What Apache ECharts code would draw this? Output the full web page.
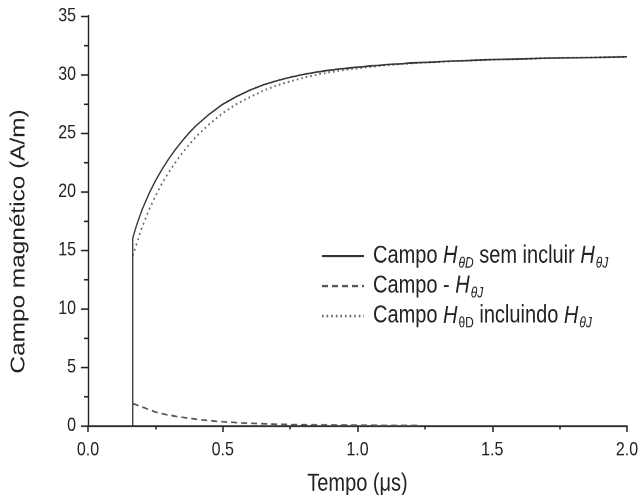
<!DOCTYPE html>
<html>
<head>
<meta charset="utf-8">
<title>Campo magnético</title>
<script src="https://cdn.jsdelivr.net/npm/echarts@6/dist/echarts.min.js"></script>
<style>
  html, body { margin: 0; padding: 0; background: #fff; width: 641px; height: 495px; }
  /* the figure is drawn at 641x406 and stretched vertically to fill 641x495 */
  #chart { width: 641px; height: 406px; transform: scaleY(1.2192); transform-origin: 0 0; }
</style>
</head>
<body>
<div id="chart"></div>
<script>
// Time axis (μs) and field values (A/m)
const tSolid = [0.166, 0.166, 0.18, 0.20, 0.225, 0.25, 0.275, 0.30, 0.325, 0.35, 0.375, 0.40, 0.45, 0.50, 0.55, 0.60, 0.65, 0.70, 0.75, 0.80, 0.85, 0.90, 0.95, 1.0, 1.1, 1.2, 1.3, 1.4, 1.5, 1.6, 1.7, 1.8, 1.9, 2.0];
const hSolid = [0, 16.0, 17.1, 18.4, 19.75, 20.9, 21.9, 22.8, 23.6, 24.33, 25.0, 25.6, 26.6, 27.45, 28.1, 28.65, 29.1, 29.45, 29.75, 30.0, 30.2, 30.37, 30.5, 30.62, 30.82, 30.97, 31.08, 31.18, 31.26, 31.32, 31.38, 31.42, 31.46, 31.5];

const tDotted = [0.166, 0.18, 0.20, 0.225, 0.25, 0.275, 0.30, 0.325, 0.35, 0.375, 0.40, 0.45, 0.50, 0.55, 0.60, 0.65, 0.70, 0.75, 0.80, 0.85, 0.90, 0.95, 1.0, 1.1, 1.2, 1.3, 1.4, 1.5, 1.6, 1.7, 1.8, 1.9, 2.0];
const hDotted = [14.5, 15.5, 16.9, 18.35, 19.6, 20.7, 21.65, 22.5, 23.3, 24.0, 24.65, 25.75, 26.7, 27.45, 28.05, 28.6, 29.05, 29.4, 29.72, 29.98, 30.2, 30.38, 30.52, 30.77, 30.95, 31.07, 31.17, 31.25, 31.32, 31.38, 31.42, 31.46, 31.5];

const tDashed = [0.166, 0.20, 0.25, 0.30, 0.35, 0.40, 0.45, 0.50, 0.55, 0.60, 0.65, 0.70, 0.80, 0.90, 1.0, 1.1, 1.23];
const hDashed = [1.88, 1.6, 1.15, 0.88, 0.7, 0.54, 0.42, 0.32, 0.25, 0.19, 0.15, 0.11, 0.07, 0.04, 0.02, 0.01, 0.01];

const seriesNames = ['Campo HθD sem incluir HθJ', 'Campo - HθJ', 'Campo HθD incluindo HθJ'];
// Rich-text legend labels (italic H with subscripts)
const legendLabels = [
  '{n|Campo }{h|H}{si|θD}{n| sem incluir }{h|H}{si|θJ}',
  '{n|Campo - }{h|H}{si|θJ}',
  '{n|Campo }{h|H}{su|θD}{n| incluindo }{h|H}{si|θJ}'
];

const xTicks = [0, 0.5, 1.0, 1.5, 2.0];
const yTicks = [0, 5, 10, 15, 20, 25, 30, 35];

const pairs = (xs, ys) => xs.map((x, i) => [x, ys[i]]);

const FONT = '"Liberation Sans", Arial, sans-serif';
const INK = '#222';

const chart = echarts.init(document.getElementById('chart'), null, { renderer: 'canvas', devicePixelRatio: 2 });

const axisLine = { show: true, onZero: false, lineStyle: { color: INK, width: 1.4 } };

chart.setOption({
  animation: false,
  backgroundColor: '#fff',
  grid: { left: 88, right: 14, top: 13, bottom: 57, outerBoundsMode: 'none', containLabel: false },
  xAxis: {
    type: 'value',
    min: xTicks[0],
    max: xTicks[xTicks.length - 1],
    interval: 0.5,
    name: 'Tempo (μs)',
    nameLocation: 'middle',
    nameGap: 38,
    nameTextStyle: { fontFamily: FONT, fontSize: 20, color: INK },
    axisLine: axisLine,
    axisTick: { show: true, inside: false, length: 5.5, lineStyle: { color: INK, width: 1.5 } },
    minorTick: { show: true, splitNumber: 2, length: 3.2, lineStyle: { color: INK, width: 1.5 } },
    splitLine: { show: false },
    axisLabel: { margin: 12, fontFamily: FONT, fontSize: 16, color: INK, formatter: v => v.toFixed(1) }
  },
  yAxis: {
    type: 'value',
    min: yTicks[0],
    max: yTicks[yTicks.length - 1],
    interval: 5,
    name: 'Campo magnético (A/m)',
    nameLocation: 'middle',
    nameGap: 59,
    // right padding moves the rotated title down along the axis
    nameTextStyle: { fontFamily: FONT, fontSize: 20, color: INK, padding: [0, 34, 0, 0] },
    axisLine: axisLine,
    axisTick: { show: true, inside: false, length: 7, lineStyle: { color: INK, width: 1.3 } },
    minorTick: { show: true, splitNumber: 2, length: 4, lineStyle: { color: INK, width: 1.3 } },
    splitLine: { show: false },
    axisLabel: { margin: 12, fontFamily: FONT, fontSize: 16, color: INK }
  },
  legend: {
    orient: 'vertical',
    left: 321,
    top: 198,
    padding: 0,
    itemWidth: 42,
    itemHeight: 12,
    itemGap: 0.6,
    selectedMode: false,
    data: seriesNames,
    itemStyle: { opacity: 0 },
    formatter: name => legendLabels[seriesNames.indexOf(name)],
    textStyle: {
      color: INK,
      fontFamily: FONT,
      padding: [0, 0, 0, 4],
      rich: {
        n: { fontFamily: FONT, fontSize: 20, lineHeight: 24, color: INK },
        h: { fontFamily: FONT, fontSize: 20, fontStyle: 'italic', lineHeight: 24, color: INK },
        si: { fontFamily: FONT, fontSize: 12, fontStyle: 'italic', lineHeight: 12, padding: [12, 0, 0, 1], color: INK },
        su: { fontFamily: FONT, fontSize: 12, lineHeight: 12, padding: [12, 0, 0, 1], color: INK }
      }
    }
  },
  series: [
    {
      name: seriesNames[0],
      type: 'line',
      showSymbol: false,
      symbol: 'none',
      data: pairs(tSolid, hSolid),
      lineStyle: { color: '#333', width: 1.3, type: 'solid' },
      itemStyle: { color: '#333' },
      z: 3
    },
    {
      name: seriesNames[1],
      type: 'line',
      showSymbol: false,
      symbol: 'none',
      data: pairs(tDashed, hDashed),
      lineStyle: { color: '#555', width: 1.4, type: [6, 4] },
      itemStyle: { color: '#555' },
      z: 2
    },
    {
      name: seriesNames[2],
      type: 'line',
      showSymbol: false,
      symbol: 'none',
      data: pairs(tDotted, hDotted),
      lineStyle: { color: '#666', width: 1.6, type: [1.6, 3] },
      itemStyle: { color: '#666' },
      z: 2
    }
  ]
});
</script>
</body>
</html>
